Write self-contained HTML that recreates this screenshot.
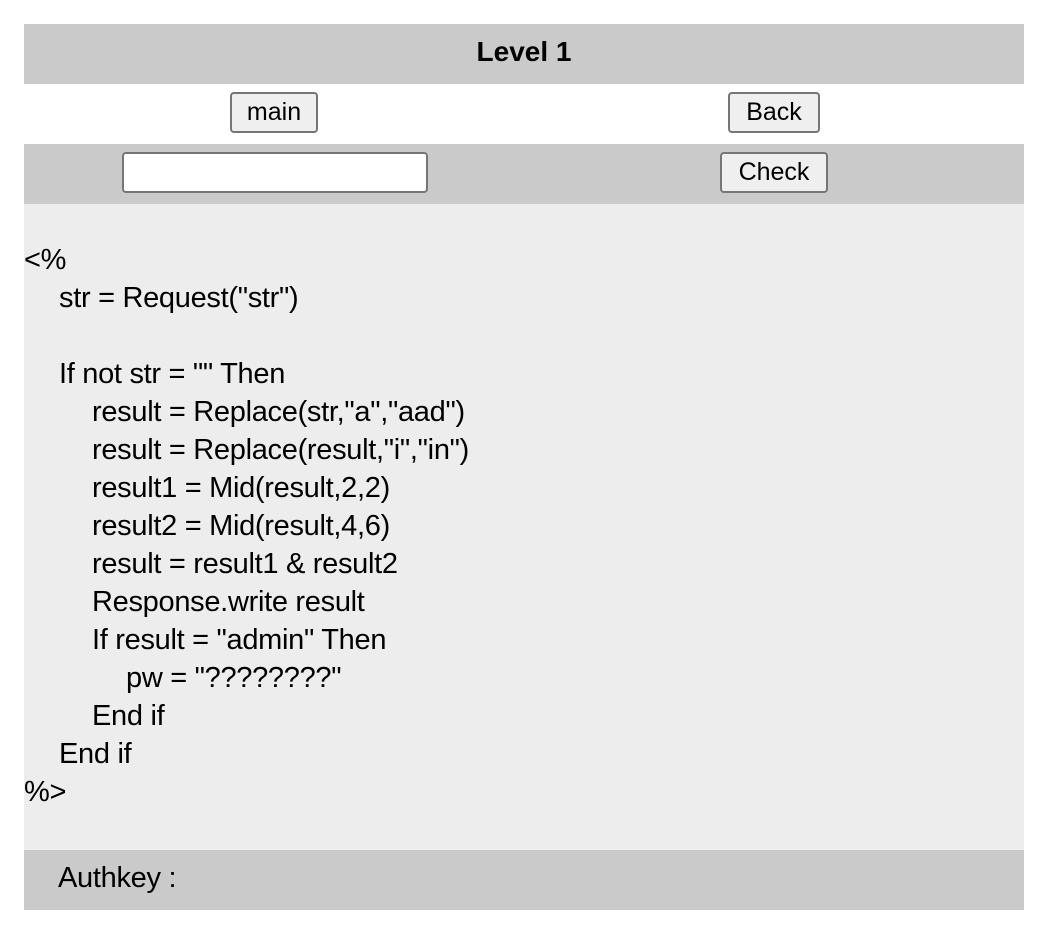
<!DOCTYPE html>
<html><head><meta charset="utf-8"><style>
body{margin:0;width:1048px;height:930px;background:#fff;position:relative;font-family:"Liberation Sans",sans-serif;}
.r{position:absolute;left:24px;width:1000px;}
.btn{position:absolute;box-sizing:border-box;border:2px solid #767676;border-radius:4px;background:#efefef;font-size:25px;text-align:center;color:#000;}
.code{position:absolute;font-size:29px;color:#000;line-height:38px;letter-spacing:-0.3px;white-space:normal;}
.code .ln{height:38px;white-space:pre;}
.i1{padding-left:35px;}.i2{padding-left:68px;}.i3{padding-left:102px;}
</style></head><body>
<div class="r" style="top:24px;height:60px;background:#cacaca;text-align:center;font-weight:bold;font-size:28px;line-height:56px;">Level 1</div>
<div class="btn" style="left:230px;top:92px;width:88px;height:41px;line-height:37px;">main</div>
<div class="btn" style="left:728px;top:92px;width:92px;height:41px;line-height:37px;">Back</div>
<div class="r" style="top:144px;height:60px;background:#cacaca;"></div>
<div style="position:absolute;left:122px;top:152px;width:306px;height:41px;box-sizing:border-box;border:2px solid #767676;border-radius:4px;background:#fff;"></div>
<div class="btn" style="left:720px;top:152px;width:108px;height:41px;line-height:37px;">Check</div>
<div class="r" style="top:204px;height:646px;background:#ededed;"></div>
<div class="code" style="left:24px;top:241px;"><div class="ln">&lt;%</div><div class="ln i1">str = Request("str")</div><div class="ln"></div><div class="ln i1">If not str = "" Then</div><div class="ln i2">result = Replace(str,"a","aad")</div><div class="ln i2">result = Replace(result,"i","in")</div><div class="ln i2">result1 = Mid(result,2,2)</div><div class="ln i2">result2 = Mid(result,4,6)</div><div class="ln i2">result = result1 &amp; result2</div><div class="ln i2">Response.write result</div><div class="ln i2">If result = "admin" Then</div><div class="ln i3">pw = "????????"</div><div class="ln i2">End if</div><div class="ln i1">End if</div><div class="ln">%&gt;</div></div>
<div style="position:absolute;left:24px;top:850px;width:966px;height:60px;padding-left:34px;background:#cacaca;font-size:29px;line-height:56px;letter-spacing:-0.3px;color:#000;">Authkey :</div>
</body></html>
